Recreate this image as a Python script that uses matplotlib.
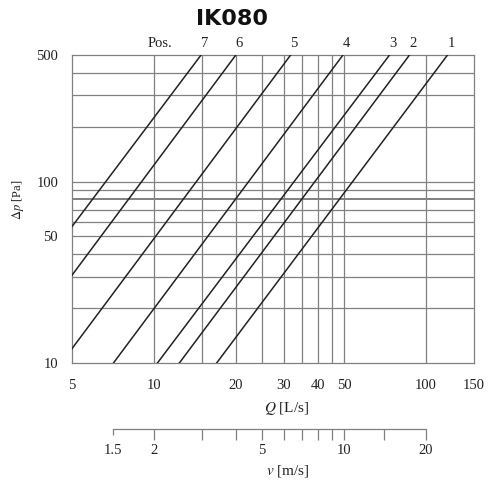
import matplotlib
matplotlib.use("Agg")
import matplotlib.pyplot as plt

plt.rcParams['font.family'] = ['Liberation Serif', 'DejaVu Serif']
plt.rcParams['mathtext.fontset'] = 'stix'

# ---- data ----
positions = ['1', '2', '3', '4', '5', '6', '7']
# each line: two end points (Q in L/s, dp in Pa)
line_q = {
    '7': [5, 14.9],
    '6': [5, 20.0],
    '5': [5, 31.8],
    '4': [7.1, 49.5],
    '3': [10.3, 73.4],
    '2': [12.4, 86.9],
    '1': [17.0, 119.9],
}
line_dp = {
    '7': [56.6, 500],
    '6': [30.5, 500],
    '5': [12.0, 500],
    '4': [10, 500],
    '3': [10, 500],
    '2': [10, 500],
    '1': [10, 500],
}
q_ticks = [5, 10, 20, 30, 40, 50, 100, 150]
q_grid = [10, 15, 20, 25, 30, 35, 40, 45, 50, 100]
dp_ticks = [10, 50, 100, 500]
dp_grid = [20, 30, 40, 50, 60, 70, 80, 90, 100, 200, 300, 400]
# velocity scale: tick positions on the Q axis and their labels
v_tick_q = [7.1, 10, 15, 20, 25, 30, 35, 40, 45, 50, 70, 100]
v_tick_labels = ['1.5', '2', '', '', '5', '', '', '', '', '10', '', '20']

GRID = '#808080'
LINE = '#222222'
TXT = '#222222'

fig = plt.figure(figsize=(4.89, 4.83), dpi=100)
L, R = 72 / 489, 474 / 489
B, T = 1 - 363 / 483, 1 - 55 / 483
ax = fig.add_axes([L, B, R - L, T - B])
ax.set_xscale('log')
ax.set_yscale('log')
ax.set_xlim(5, 150)
ax.set_ylim(10, 500)

for q in q_grid:
    ax.axvline(q, color=GRID, lw=0.9, zorder=1)
for d in dp_grid:
    ax.axhline(d, color=GRID, lw=1.4 if d == 80 else 0.9, zorder=1)

for s in ax.spines.values():
    s.set_color(GRID)
    s.set_linewidth(0.9)

for p in positions:
    ax.plot(line_q[p], line_dp[p], color=LINE, lw=1.1, zorder=3)
    ax.annotate(p, xy=(line_q[p][1], 1.0), xycoords=('data', 'axes fraction'),
                xytext=(2.5, 3.5), textcoords='offset points', ha='center',
                va='bottom', fontsize=10.5, color=TXT)
ax.annotate('Pos.', xy=(10.5, 1.0), xycoords=('data', 'axes fraction'),
            xytext=(0, 3.5), textcoords='offset points', ha='center',
            va='bottom', fontsize=10.5, color=TXT)

ax.set_xticks(q_ticks)
ax.set_xticklabels([str(v) for v in q_ticks])
ax.set_xticks([], minor=True)
ax.set_yticks(dp_ticks)
ax.set_yticklabels([str(v) for v in dp_ticks])
ax.set_yticks([], minor=True)
ax.tick_params(axis='both', length=0, labelsize=10.5, colors=TXT)
ax.tick_params(axis='x', pad=11.5)
ax.tick_params(axis='y', pad=10)

ax.set_xlabel(r'$Q$ [L/s]', fontsize=11, color=TXT)
ax.xaxis.set_label_coords(0.535, -0.12)
ax.set_ylabel(r'$\Delta p$ [Pa]', fontsize=9, color=TXT)
ax.yaxis.set_label_coords(-0.115, 0.53)

# velocity scale axis
vy = 1 - 429 / 483
vax = fig.add_axes([L, vy, R - L, 0.0001])
vax.set_xscale('log')
vax.set_xlim(5, 150)
vax.set_yticks([])
vax.patch.set_visible(False)
for k in ['top', 'left', 'right']:
    vax.spines[k].set_visible(False)
vax.spines['bottom'].set_bounds(v_tick_q[0], v_tick_q[-1])
vax.spines['bottom'].set_color(GRID)
vax.spines['bottom'].set_linewidth(0.9)
vax.set_xticks(v_tick_q)
vax.set_xticklabels(v_tick_labels)
vax.set_xticks([], minor=True)
vax.tick_params(axis='x', length=8, width=0.9, color=GRID, direction='out',
                labelsize=10.5, labelcolor=TXT, pad=3)
vax.xaxis.get_major_ticks()[0].tick1line.set_markersize(4)
fig.text(288 / 489, 1 - 471 / 483, r'$v$ [m/s]', ha='center', va='center',
         fontsize=11, color=TXT)

fig.text(232 / 489, 1 - 19 / 483, 'IK080', ha='center', va='center',
         fontsize=16, fontweight='bold', family='DejaVu Sans', color='#111111')

fig.savefig('out.png', dpi=100)
